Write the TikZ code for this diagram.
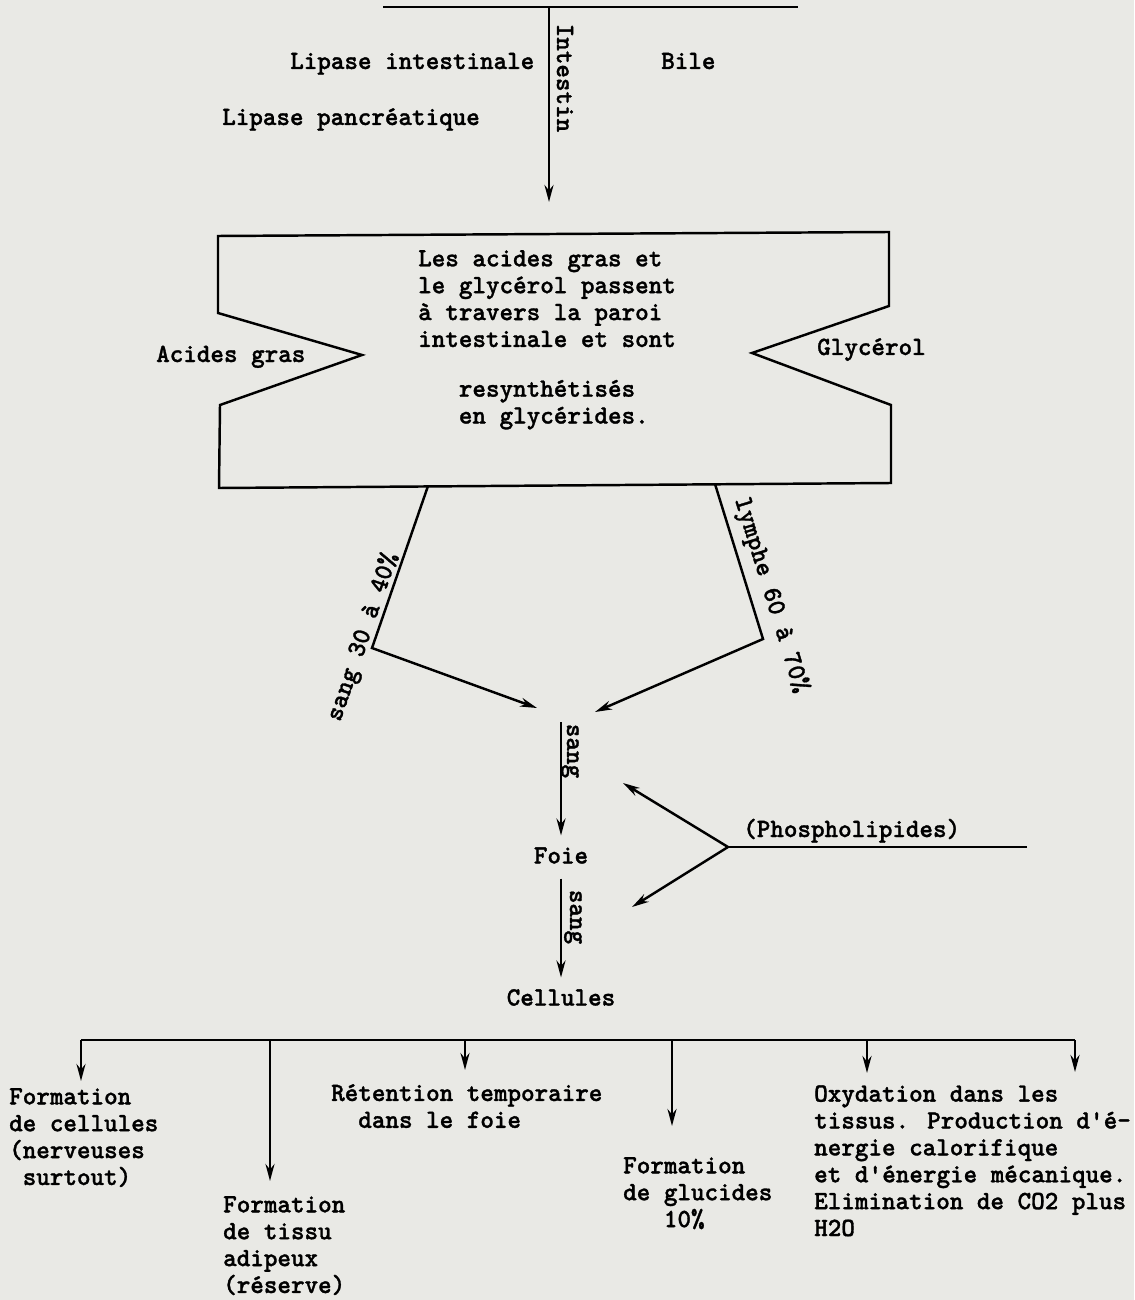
\documentclass[tikz,border=0pt]{standalone}
\usepackage{fontspec}
\setmainfont{lmmonolt10-bold}[Extension=.otf,FakeStretch=0.98,FakeBold=1.2]
\usetikzlibrary{arrows.meta}
\definecolor{paper}{RGB}{233,233,229}
\tikzset{
  txt/.style={inner sep=0pt},
  pas/.style={inner sep=0pt,outer ysep=2.4mm,text height=3.2mm,text depth=0.6mm},
  flow/.style={-{Stealth[length=3.4mm,width=1.8mm]}}
}

\begin{document}
\begin{tikzpicture}[x=0.02cm,y=-0.02cm,line width=1.4pt,font=\fontsize{15}{15.3}\selectfont]
\fill[paper] (0,0) rectangle (1134,1300);
\useasboundingbox (0,0) rectangle (1134,1300);
% intestin
\coordinate (barl) at (383,7);
\coordinate (barr) at (798,7);
\coordinate (bari) at (549,7);
\coordinate (boxin) at (549,202);
\draw (barl) -- (barr);
\draw[flow] (bari) -- (boxin);
\node[txt,rotate=-90,anchor=base] (intestin) at (557,78) {Intestin};
\node[txt,anchor=base west] (lipint) at (289,69) {Lipase intestinale};
\node[txt,anchor=base west] (lippanc) at (221,125) {Lipase pancréatique};
\node[txt,anchor=base west] (bile) at (660,69) {Bile};
% paroi intestinale
\draw (218,236) -- (218,313) -- (362,355) -- (220,405) -- (219,488) -- (891,483)
  -- (891,405) -- (752,353) -- (889,306) -- (889,232) -- cycle;
\node[txt,anchor=north west,align=left] (paroi) at (417,249) {Les acides gras et\\le glycérol passent\\à travers la paroi\\intestinale et sont\\[13pt]\phantom{xxx}resynthétisés\\\phantom{xxx}en glycérides.};
\node[txt,anchor=base west] (acides) at (155,362) {Acides gras};
\node[txt,anchor=base west] (glycerol) at (816,355) {Glycérol};
% sang et lymphe
\coordinate (sanga) at (428,486);
\coordinate (sangb) at (372,648);
\coordinate (lyma) at (715,484);
\coordinate (lymb) at (763,639);
\coordinate (confl) at (537,708);
\coordinate (confr) at (595,712);
\draw[flow] (sanga) -- (sangb) -- (confl);
\draw[flow] (lyma) -- (lymb) -- (confr);
\node[txt,rotate=70.9,anchor=base] (sangpc) at (369,639) {sang 30 à 40\%};
\node[txt,rotate=-72.8,anchor=base] (lympc) at (765,597) {lymphe 60 à 70\%};
% foie
\coordinate (sangtop) at (561,722);
\node[pas] (foie) at (561,857) {Foie};
\node[pas] (cell) at (561,999) {Cellules};
\draw[flow] (sangtop) -- (foie);
\draw[flow] (foie) -- (cell);
\node[txt,rotate=-90,anchor=base] (sang1) at (567,751) {sang};
\node[txt,rotate=-90,anchor=base] (sang2) at (570,917) {sang};
% phospholipides
\coordinate (phosv) at (728,847);
\coordinate (phose) at (1027,847);
\coordinate (phosu) at (623,783);
\coordinate (phosd) at (632,907);
\draw (phose) -- (phosv);
\draw[flow] (phosv) -- (phosu);
\draw[flow] (phosv) -- (phosd);
\node[txt,anchor=base west] (phos) at (742,837) {(Phospholipides)};
% devenir dans les cellules
\coordinate (b1) at (81,1040);
\coordinate (b2) at (270,1040);
\coordinate (b3) at (465,1040);
\coordinate (b4) at (672,1040);
\coordinate (b5) at (867,1040);
\coordinate (b6) at (1075,1040);
\coordinate (t6) at (1075,1072);
\draw (b1) -- (b6);
\node[txt,anchor=north west,align=left] (form1) at (8,1087) {Formation\\de cellules\\(nerveuses\\\phantom{x}surtout)};
\node[txt,anchor=north west,align=left] (form2) at (222,1195) {Formation\\de tissu\\adipeux\\(réserve)};
\node[txt,anchor=north west,align=left] (reten) at (330,1083) {Rétention temporaire\\\phantom{xx}dans le foie};
\node[txt,anchor=north west,align=left] (gluc) at (622,1156) {Formation\\de glucides\\\phantom{xxx}10\%};
\node[txt,anchor=north west,align=left] (oxyd) at (813,1084) {Oxydation dans les\\tissus. Production d\textquotesingle é-\\nergie calorifique\\et d\textquotesingle énergie mécanique.\\Elimination de CO2 plus\\H2O};
\draw[flow,shorten >=1.2mm] (b1) -- (b1 |- form1.north);
\draw[flow,shorten >=2.8mm] (b2) -- (b2 |- form2.north);
\draw[flow,shorten >=2.6mm] (b3) -- (b3 |- reten.north);
\draw[flow,shorten >=6mm] (b4) -- (b4 |- gluc.north);
\draw[flow,shorten >=2.2mm] (b5) -- (b5 |- oxyd.north);
\draw[flow] (b6) -- (t6);
\end{tikzpicture}
\end{document}
